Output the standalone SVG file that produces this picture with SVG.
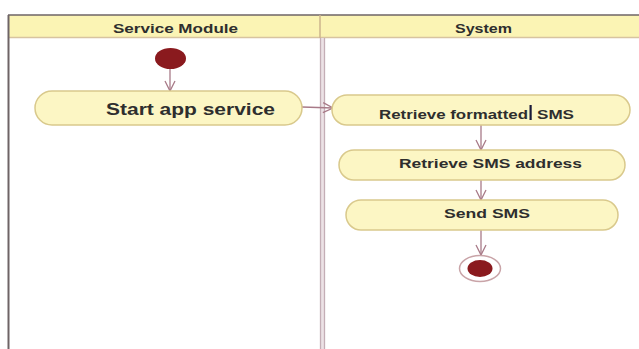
<svg xmlns="http://www.w3.org/2000/svg" width="639" height="349" viewBox="0 0 639 349">
<style>
.hdr{fill:#fbf4b4;}
.lbl{font-family:"Liberation Sans",Arial,sans-serif;fill:#2e2e2e;font-weight:bold;}
.hd{font-size:12px;}
.act{fill:#fcf6c4;stroke:#d9c98c;stroke-width:1.5;}
.at{font-size:13.5px;}
.conn{stroke:#a87a88;stroke-width:1.3;fill:none;}
</style>
<defs>
<marker id="arr" viewBox="0 0 12 12" refX="11" refY="6" markerWidth="12" markerHeight="12" markerUnits="userSpaceOnUse" orient="auto">
<path d="M1,1 L11,6 L1,11" fill="none" stroke="#a87a88" stroke-width="1.3"/>
</marker>
</defs>
<rect x="0" y="0" width="639" height="349" fill="#ffffff"/>
<g id="lanes">
<rect class="hdr" x="8" y="15" width="631" height="23"/>
<line x1="8" y1="37.5" x2="639" y2="37.5" stroke="#d8c4a0" stroke-width="1.5"/>
<line x1="8" y1="15" x2="639" y2="15" stroke="#6e6466" stroke-width="1.5"/>
<line x1="8.5" y1="15" x2="8.5" y2="349" stroke="#6e6466" stroke-width="2"/>
<line x1="320" y1="15" x2="320" y2="38" stroke="#cdb48c" stroke-width="1.5"/>
<rect x="320" y="38" width="5" height="311" fill="#ece2e6"/>
<line x1="320.5" y1="38" x2="320.5" y2="349" stroke="#c4aeb6" stroke-width="1.3"/>
<line x1="324.5" y1="38" x2="324.5" y2="349" stroke="#c4aeb6" stroke-width="1.3"/>
<text class="lbl hd" x="113" y="33" textLength="125" lengthAdjust="spacingAndGlyphs">Service Module</text>
<text class="lbl hd" x="455" y="33" textLength="57" lengthAdjust="spacingAndGlyphs">System</text>
</g>
<g id="connectors">
<line class="conn" x1="170" y1="69" x2="170" y2="91" marker-end="url(#arr)"/>
<line class="conn" x1="302" y1="107" x2="333" y2="108" marker-end="url(#arr)"/>
<line class="conn" x1="481" y1="125" x2="481" y2="150" marker-end="url(#arr)"/>
<line class="conn" x1="481" y1="180" x2="481" y2="200" marker-end="url(#arr)"/>
<line class="conn" x1="481" y1="230" x2="481" y2="255" marker-end="url(#arr)"/>
</g>
<g id="start">
<ellipse cx="170.5" cy="58.5" rx="15.5" ry="10.5" fill="#8a1a1e"/>
</g>
<g id="start-app-service">
<rect class="act" x="35" y="91" width="267" height="34" rx="17" ry="17"/>
<text class="lbl" x="106" y="114.5" font-size="16.5" textLength="169" lengthAdjust="spacingAndGlyphs">Start app service</text>
</g>
<g id="retrieve-formatted-sms">
<rect class="act" x="332" y="95" width="298" height="30" rx="15" ry="15"/>
<text class="lbl at" x="379" y="118.5"><tspan textLength="149" lengthAdjust="spacingAndGlyphs">Retrieve formatted</tspan><tspan x="537" textLength="37" lengthAdjust="spacingAndGlyphs">SMS</tspan></text>
<rect x="529.5" y="105" width="2.2" height="15" fill="#1a1a3a"/>
</g>
<g id="retrieve-sms-address">
<rect class="act" x="339" y="150" width="286" height="30" rx="15" ry="15"/>
<text class="lbl at" x="399" y="167.5" textLength="183" lengthAdjust="spacingAndGlyphs">Retrieve SMS address</text>
</g>
<g id="send-sms">
<rect class="act" x="346" y="200" width="272" height="30" rx="15" ry="15"/>
<text class="lbl at" x="444" y="217.5" textLength="86" lengthAdjust="spacingAndGlyphs">Send SMS</text>
</g>
<g id="end">
<ellipse cx="480" cy="268.5" rx="20.5" ry="13" fill="#ffffff" stroke="#c9a4a8" stroke-width="1.5"/>
<ellipse cx="480" cy="268.5" rx="12.5" ry="8.5" fill="#8a1a1e"/>
</g>
</svg>
